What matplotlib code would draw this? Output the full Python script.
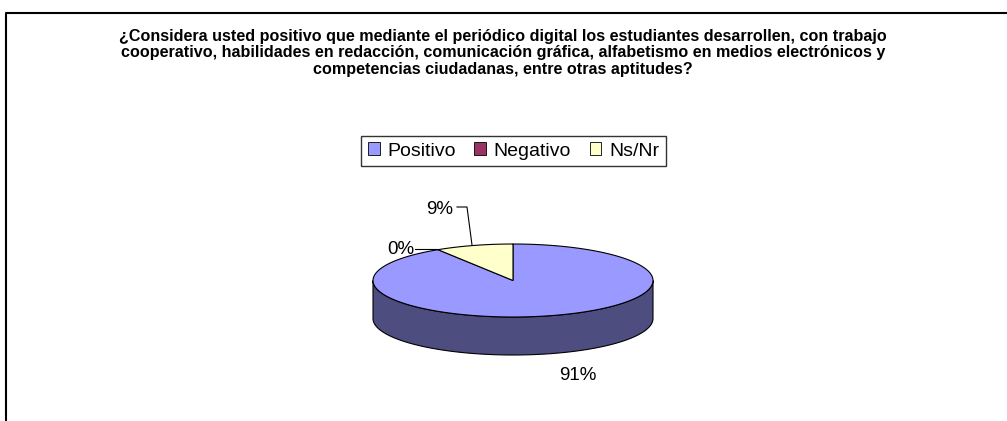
import numpy as np
import matplotlib.pyplot as plt
from matplotlib.patches import Polygon, Patch

# data
categories = ["Positivo", "Negativo", "Ns/Nr"]
values = [91, 0, 9]
top_colors = ["#9999FF", "#993366", "#FFFFCC"]
side_colors = ["#4D4D80", "#4D1A33", "#808066"]
title = ("¿Considera usted positivo que mediante el periódico digital los estudiantes desarrollen, con trabajo\n"
         "cooperativo, habilidades en redacción, comunicación gráfica, alfabetismo en medios electrónicos y\n"
         "competencias ciudadanas, entre otras aptitudes?")

plt.rcParams['font.family'] = ['Liberation Sans', 'DejaVu Sans']

W, H = 1007, 421
fig = plt.figure(figsize=(W / 100, H / 100), dpi=100)
ax = fig.add_axes([0, 0, 1, 1])
ax.set_xlim(0, W)
ax.set_ylim(H, 0)
ax.axis('off')

# chart frame (left and top edges visible)
ax.plot([6, 6, 1007], [421, 12.5, 12.5], color='black', lw=1.5, solid_capstyle='butt')

ax.text(503, 53, title, ha='center', va='center', fontsize=11.6,
        fontweight='bold', linespacing=1.12)

# pseudo-3D pie geometry (pixel units)
cx, cy, rx, ry, depth = 513, 280.5, 140, 36.5, 38


def ell(t):
    return cx + rx * np.cos(t), cy - ry * np.sin(t)


fracs = np.array(values, dtype=float) / sum(values)
starts = 90 - 360 * np.concatenate([[0], np.cumsum(fracs)[:-1]])
ends = starts - 360 * fracs

# sides: visible front arc is 180..360 degrees
for s, e, sc in zip(starts, ends, side_colors):
    if e == s:
        continue
    lo, hi = np.radians(e), np.radians(s)
    for k in range(-1, 2):
        a0 = max(lo, np.radians(180) + 2 * np.pi * k)
        a1 = min(hi, np.radians(360) + 2 * np.pi * k)
        if a1 > a0:
            t = np.linspace(a0, a1, 200)
            x, y = ell(t)
            pts = np.column_stack([np.r_[x, x[::-1]], np.r_[y, y[::-1] + depth]])
            ax.add_patch(Polygon(pts, closed=True, fc=sc, ec='black', lw=0.8))

# top faces
for s, e, tc in zip(starts, ends, top_colors):
    if e == s:
        continue
    t = np.linspace(np.radians(s), np.radians(e), 300)
    x, y = ell(t)
    pts = np.column_stack([np.r_[cx, x], np.r_[cy, y]])
    ax.add_patch(Polygon(pts, closed=True, fc=tc, ec='black', lw=0.8))

# percentage labels with leader lines
labels = [f"{v:.0f}%" for v in values]
ax.text(578, 375, labels[0], ha='center', va='center', fontsize=13.5)
ax.text(401, 250, labels[1], ha='center', va='center', fontsize=13.5)
ax.plot([415, 437], [249, 249], color='black', lw=0.8)
ax.text(440, 209, labels[2], ha='center', va='center', fontsize=13.5)
ax.plot([457, 467, 472], [207, 207, 245], color='black', lw=0.8)

handles = [Patch(fc=c, ec='black', lw=0.6) for c in top_colors]
leg = ax.legend(handles, categories, ncol=3, loc='center',
                bbox_to_anchor=(513.5 / W, 1 - 151 / H), frameon=True,
                fancybox=False, edgecolor='black', fontsize=14,
                handlelength=0.6, handleheight=0.6, handletextpad=0.4,
                columnspacing=0.95, borderpad=0.35, borderaxespad=0)
leg.get_frame().set_linewidth(1.0)

fig.savefig("out.png", dpi=100)
